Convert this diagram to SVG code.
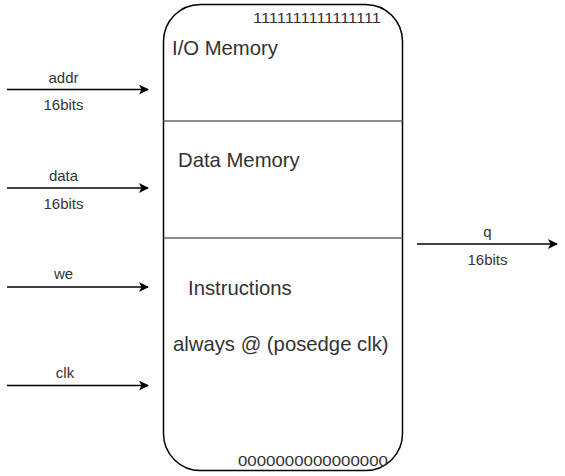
<svg xmlns="http://www.w3.org/2000/svg" width="565" height="476" viewBox="0 0 565 476">
<defs>
<style>
.lbl{font-family:"Liberation Sans",Arial,sans-serif;font-size:15px;fill:#333;text-anchor:middle}
.ttl{font-family:"Liberation Sans",Arial,sans-serif;font-size:20.3px;fill:#333}
.num{font-family:"Liberation Sans",Arial,sans-serif;font-size:14.5px;fill:#333}
.wire{stroke:#000;stroke-width:1.5;fill:none}
.div{stroke:#666;stroke-width:1.5;fill:none}
</style>
<marker id="arr" viewBox="0 0 10 10" refX="9" refY="5" markerWidth="10" markerHeight="10" markerUnits="userSpaceOnUse" orient="auto">
<path d="M0,0 L10,5 L0,10 L2.5,5 Z" fill="#000"/>
</marker>
</defs>
<rect width="565" height="476" fill="#fff"/>
<g id="memory">
<rect x="163.5" y="4.5" width="239" height="466" rx="37" ry="37" fill="#fff" stroke="#000" stroke-width="1.5"/>
<line class="div" x1="163.5" y1="121" x2="402.5" y2="121"/>
<line class="div" x1="163.5" y1="238" x2="402.5" y2="238"/>
<text class="num" x="253" y="23" textLength="128" lengthAdjust="spacingAndGlyphs">1111111111111111</text>
<text class="ttl" x="172" y="55">I/O Memory</text>
<text class="ttl" x="178" y="167">Data Memory</text>
<text class="ttl" x="188" y="295">Instructions</text>
<text class="ttl" x="173" y="351">always @ (posedge clk)</text>
<text class="num" x="238" y="466" textLength="150" lengthAdjust="spacingAndGlyphs">0000000000000000</text>
</g>
<g id="connectors">
<line class="wire" x1="7" y1="89.5" x2="148" y2="89.5" marker-end="url(#arr)"/>
<line class="wire" x1="7" y1="188" x2="148" y2="188" marker-end="url(#arr)"/>
<line class="wire" x1="7" y1="287" x2="148" y2="287" stroke="#808080" marker-end="url(#arr)"/>
<line class="wire" x1="7" y1="385.5" x2="148" y2="385.5" marker-end="url(#arr)"/>
<line class="wire" x1="417" y1="244" x2="557" y2="244" marker-end="url(#arr)"/>
</g>
<g id="labels">
<text class="lbl" x="63.5" y="83">addr</text>
<text class="lbl" x="63.5" y="110">16bits</text>
<text class="lbl" x="63.5" y="181">data</text>
<text class="lbl" x="63.5" y="209">16bits</text>
<text class="lbl" x="63.5" y="279">we</text>
<text class="lbl" x="65" y="378">clk</text>
<text class="lbl" x="487.5" y="237">q</text>
<text class="lbl" x="487.5" y="265">16bits</text>
</g>
</svg>
